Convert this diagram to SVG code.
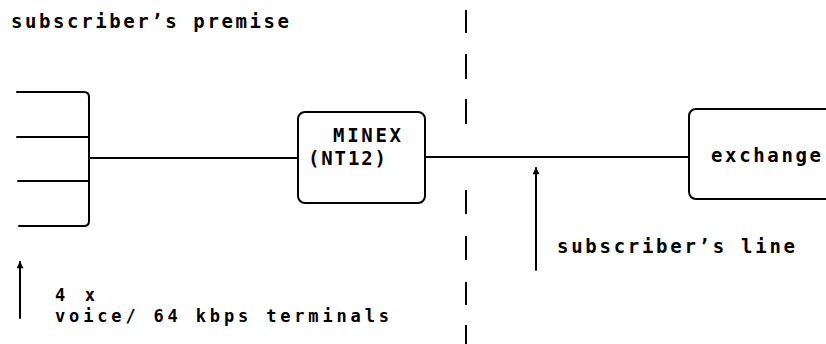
<svg xmlns="http://www.w3.org/2000/svg" width="826" height="344" viewBox="0 0 826 344">
<style>
.ln{fill:none;stroke:#000;stroke-width:2;stroke-linecap:round;stroke-linejoin:round}
.dash{fill:none;stroke:#000;stroke-width:2}
.box{fill:#fff;stroke:#000;stroke-width:2}
text{font-family:"DejaVu Sans Mono","Liberation Mono",monospace;font-size:19px;font-weight:bold;fill:#000}
text.sm{font-size:17px}
</style>
<defs>
<marker id="ah" viewBox="0 0 10 10" refX="9" refY="5" markerWidth="10" markerHeight="7" markerUnits="userSpaceOnUse" orient="auto">
<path d="M0,0 L10,5 L0,10 Z" fill="#000"/>
</marker>
</defs>
<g id="labels">
<text x="11" y="28" textLength="278" lengthAdjust="spacing">subscriber’s premise</text>
</g>
<g id="boundary">
<path class="dash" d="M466,10 V33 M466,54 V79 M466,99 V124 M466,190 V214 M466,236 V260 M466,282 V305 M466,325 V344"/>
</g>
<g id="connectors">
<line class="ln" x1="89" y1="158" x2="298" y2="158"/>
<line class="ln" x1="425" y1="157" x2="689" y2="157"/>
<line class="ln" x1="536" y1="270" x2="536" y2="168" marker-end="url(#ah)"/>
<line class="ln" x1="20" y1="318" x2="20" y2="262" marker-end="url(#ah)"/>
</g>
<g id="terminals">
<path class="ln" d="M17,92 H84 Q89,92 89,97 V221 Q89,226 84,226 H19"/>
<line class="ln" x1="17" y1="137" x2="89" y2="137"/>
<line class="ln" x1="18" y1="181" x2="89" y2="181"/>
</g>
<g id="minex">
<rect class="box" x="298" y="112" width="127" height="91" rx="7"/>
<text x="333" y="142" textLength="68" lengthAdjust="spacing">MINEX</text>
<text x="308" y="165" textLength="78" lengthAdjust="spacing">(NT12)</text>
</g>
<g id="exchange">
<rect class="box" x="689" y="109" width="160" height="90" rx="7"/>
<text x="711" y="162" textLength="110" lengthAdjust="spacing">exchange</text>
</g>
<g id="line-label">
<text x="557" y="253" textLength="238" lengthAdjust="spacing">subscriber’s line</text>
</g>
<g id="terminal-label">
<text class="sm" x="55" y="301" textLength="40" lengthAdjust="spacing">4 x</text>
<text class="sm" x="55" y="322" textLength="334" lengthAdjust="spacing">voice/ 64 kbps terminals</text>
</g>
</svg>
